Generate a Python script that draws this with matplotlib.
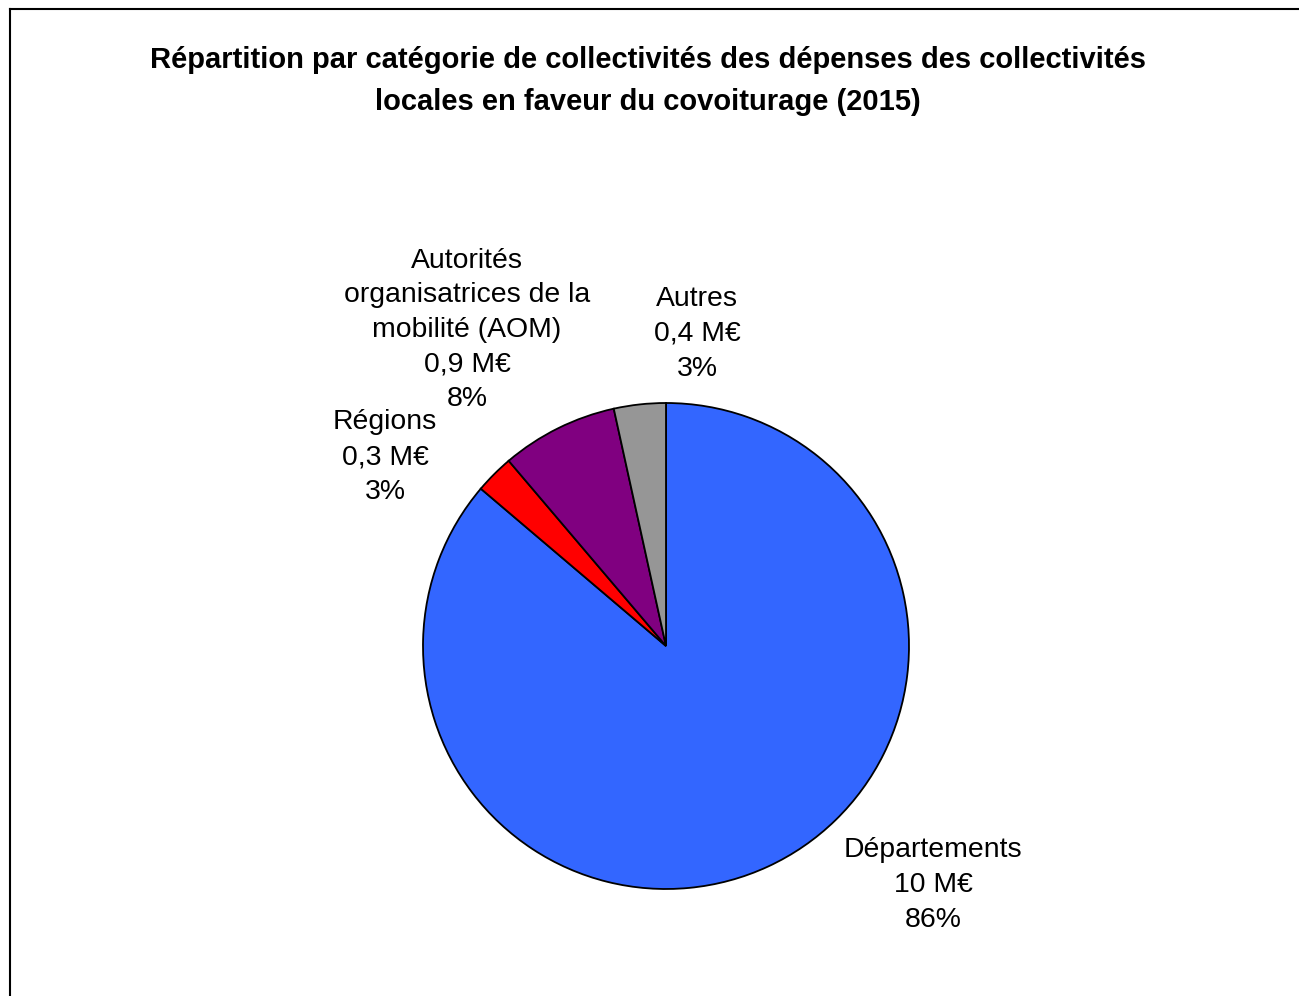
import matplotlib
matplotlib.use("Agg")
import matplotlib.pyplot as plt
from matplotlib.lines import Line2D

plt.rcParams['font.family'] = ['Liberation Sans', 'DejaVu Sans']

categories = ["Départements", "Régions", "Autorités\norganisatrices de la\nmobilité (AOM)", "Autres"]
values_meur = [10, 0.3, 0.9, 0.4]
value_labels = ["10 M€", "0,3 M€", "0,9 M€", "0,4 M€"]
pct_labels = ["86%", "3%", "8%", "3%"]
colors = ["#3366FF", "#FF0000", "#800080", "#969696"]

W, H = 1299, 996
fig = plt.figure(figsize=(W / 100, H / 100), dpi=100)

# border (top and left visible, extends beyond right/bottom)
fig.add_artist(Line2D([9.5 / W, 1.01], [1 - 9.5 / H, 1 - 9.5 / H], transform=fig.transFigure, color='black', lw=1.5))
fig.add_artist(Line2D([9.5 / W, 9.5 / W], [1 - 9.5 / H, -0.01], transform=fig.transFigure, color='black', lw=1.5))

cx, cy, r = 666, 646, 243
ax = fig.add_axes([(cx - r) / W, (H - cy - r) / H, 2 * r / W, 2 * r / H])
ax.pie(values_meur, colors=colors, startangle=90, counterclock=False,
       wedgeprops=dict(edgecolor='black', linewidth=1.3), radius=1)
ax.set_xlim(-1.0, 1.0)
ax.set_ylim(-1.0, 1.0)
ax.set_aspect('equal')
ax.axis('off')

label_pos = [(933, 885), (385, 457), (467, 330), (697, 334)]
for cat, v, p, (px, py) in zip(categories, value_labels, pct_labels, label_pos):
    fig.text(px / W, 1 - py / H, f"{cat}\n{v}\n{p}", ha='center', va='center',
             multialignment='center', fontsize=20.4, linespacing=1.43)

fig.text(648 / W, 1 - 81 / H,
         "Répartition par catégorie de collectivités des dépenses des collectivités\nlocales en faveur du covoiturage (2015)",
         ha='center', va='center', multialignment='center', fontsize=21, fontweight='bold', linespacing=1.68)

fig.savefig("out.png", dpi=100, facecolor='white')
